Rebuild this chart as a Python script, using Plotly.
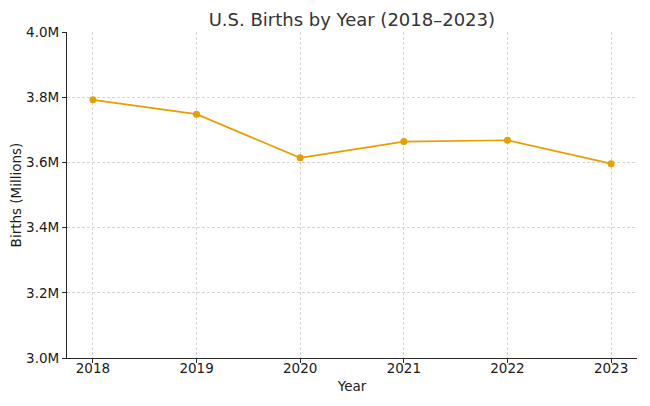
import plotly.graph_objects as go

years = [2018, 2019, 2020, 2021, 2022, 2023]
births_millions = [3.792, 3.748, 3.614, 3.664, 3.668, 3.596]
y_tick_vals = [3.0, 3.2, 3.4, 3.6, 3.8, 4.0]
y_tick_text = ["3.0M", "3.2M", "3.4M", "3.6M", "3.8M", "4.0M"]

fig = go.Figure()
fig.add_trace(go.Scatter(
    x=years, y=births_millions, mode="lines+markers",
    line=dict(color="#E69F00", width=1.7),
    marker=dict(color="#E69F00", size=7),
    showlegend=False,
))

font_family = "DejaVu Sans"
fig.update_layout(
    width=650, height=406,
    margin=dict(l=59, r=21, t=24, b=56, autoexpand=False),
    paper_bgcolor="white", plot_bgcolor="white",
    font=dict(family=font_family, size=13, color="#1a1a1a"),
    title=dict(text="U.S. Births by Year (2018–2023)", x=0.529, xanchor="center",
               y=0.970, yanchor="middle", font=dict(size=18, color="#333333")),
    xaxis=dict(
        range=[2017.75, 2023.25], tickmode="array", tickvals=years,
        ticktext=[str(y) for y in years], automargin=False,
        showgrid=True, gridcolor="#d4d4d4", griddash="3px,2px", gridwidth=0.8,
        showline=True, linecolor="#262626", linewidth=1.2, mirror=False,
        ticks="outside", ticklen=4, tickcolor="#262626",
        tickfont=dict(size=13.5), ticklabelstandoff=-6,
        title=dict(text="Year", font=dict(size=13.5), standoff=6),
        zeroline=False,
    ),
    yaxis=dict(
        range=[3.0, 4.0], tickmode="array", tickvals=y_tick_vals, ticktext=y_tick_text,
        automargin=False,
        showgrid=True, gridcolor="#d4d4d4", griddash="3px,2px", gridwidth=0.8,
        showline=True, linecolor="#262626", linewidth=1.2, mirror=False,
        ticks="outside", ticklen=4, tickcolor="#262626",
        tickfont=dict(size=13.5),
        title=dict(text="Births (Millions)", font=dict(size=13.5), standoff=4),
        zeroline=False,
    ),
)

fig.write_html("out.html")
